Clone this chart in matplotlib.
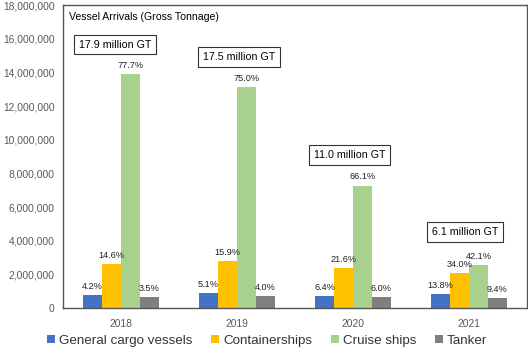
import matplotlib.pyplot as plt
import numpy as np

years = ["2018", "2019", "2020", "2021"]
series = ["General cargo vessels", "Containerships", "Cruise ships", "Tanker"]
colors = ["#4472C4", "#FFC000", "#A9D18E", "#7F7F7F"]

# gross tonnage per vessel type
general = [750000, 890000, 700000, 840000]
container = [2610000, 2780000, 2380000, 2070000]
cruise = [13910000, 13130000, 7270000, 2570000]
tanker = [630000, 700000, 660000, 570000]

pct_general = ["4.2%", "5.1%", "6.4%", "13.8%"]
pct_container = ["14.6%", "15.9%", "21.6%", "34.0%"]
pct_cruise = ["77.7%", "75.0%", "66.1%", "42.1%"]
pct_tanker = ["3.5%", "4.0%", "6.0%", "9.4%"]

totals = ["17.9 million GT", "17.5 million GT", "11.0 million GT", "6.1 million GT"]
total_pos = [(-0.05, 15650000), (1.02, 14900000), (1.97, 9100000), (2.97, 4500000)]

plt.rcParams['font.family'] = ['Liberation Sans', 'DejaVu Sans']

fig = plt.figure(figsize=(5.28, 3.51), dpi=100)
ax = fig.add_axes([0.119, 0.1225, 0.879, 0.863])

x = np.arange(len(years))
w = 0.163
values = [general, container, cruise, tanker]
pcts = [pct_general, pct_container, pct_cruise, pct_tanker]
for i, (vals, labs) in enumerate(zip(values, pcts)):
    pos = x + (i - 1.5) * w
    ax.bar(pos, vals, width=w, color=colors[i], label=series[i])
    for p, v, t in zip(pos, vals, labs):
        ax.text(p, v + 250000, t, ha="center", va="bottom", fontsize=6.6, color="#222222")

for t, (tx, ty) in zip(totals, total_pos):
    ax.text(tx, ty, t, ha="center", va="center", fontsize=7.7,
            bbox=dict(boxstyle="square,pad=0.45", fc="white", ec="#333333", lw=0.8))

ax.text(-0.45, 17300000, "Vessel Arrivals (Gross Tonnage)", fontsize=7.6, va="center")

ax.set_xlim(-0.5, 3.5)
ax.set_ylim(0, 18000000)
ax.set_yticks(np.arange(0, 18000001, 2000000))
ax.yaxis.set_major_formatter(plt.FuncFormatter(lambda v, p: f"{int(v):,}"))
ax.set_xticks(x)
ax.set_xticklabels(years)
ax.tick_params(length=0, labelsize=7.4, colors="#595959")
ax.tick_params(axis="x", pad=8)
ax.tick_params(axis="y", pad=6)
for s in ax.spines.values():
    s.set_color("#555555")
    s.set_linewidth(1.0)

ax.legend(loc="center", bbox_to_anchor=(0.44, -0.108), ncol=4, frameon=False,
          fontsize=9.6, handlelength=0.6, handleheight=0.6, handletextpad=0.3,
          columnspacing=1.4, labelcolor="#333333", borderpad=0)

fig.savefig("out.png", dpi=100)
